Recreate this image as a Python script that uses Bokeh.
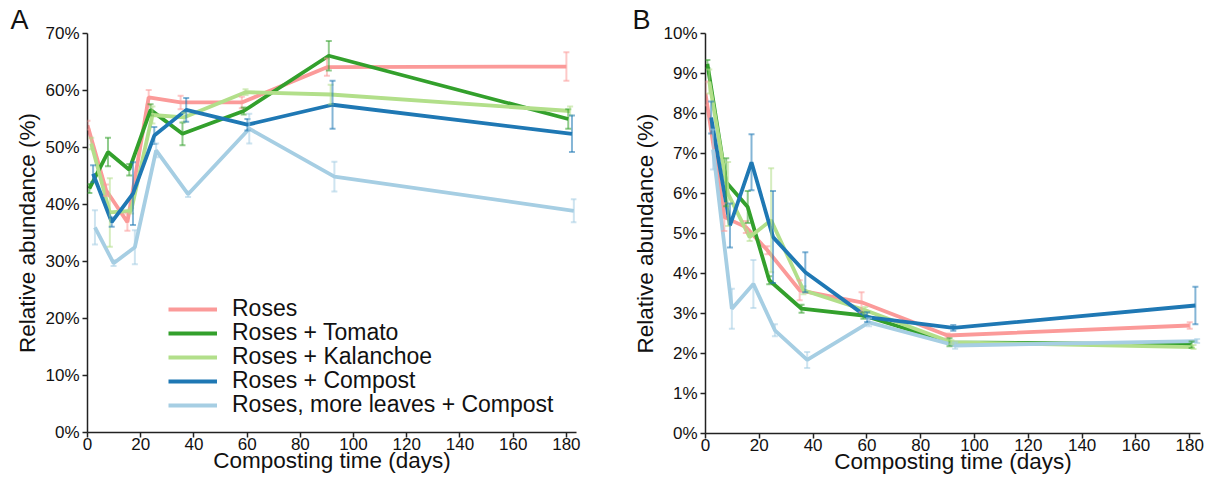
from bokeh.plotting import figure
from bokeh.layouts import row
from bokeh.models import (ColumnDataSource, Whisker, TeeHead, Range1d, Legend, LegendItem,
                          PrintfTickFormatter, FixedTicker, Title)
from bokeh.embed import file_html
from bokeh.resources import INLINE

days = [0, 7, 15, 23, 35, 58, 90, 180]
series = ["Roses", "Roses + Tomato", "Roses + Kalanchoe", "Roses + Compost",
          "Roses, more leaves + Compost"]
colors = ["#FB9A99", "#33A02C", "#B2DF8A", "#1F78B4", "#A6CEE3"]

# Panel A values (%)
a_roses = [53.9, 42.5, 36.9, 58.8, 57.9, 57.9, 64.1, 64.2]
a_tomato = [42.8, 49.2, 46.1, 56.6, 52.4, 56.4, 66.1, 55.0]
a_kalanchoe = [50.7, 38.6, 38.9, 55.7, 55.3, 59.7, 59.3, 56.4]
a_compost = [45.4, 36.9, 41.9, 52.1, 56.6, 54.0, 57.5, 52.4]
a_leaves = [36.0, 29.7, 32.5, 49.5, 41.8, 53.3, 44.9, 38.9]
a_roses_err = [0.8, 1.0, 1.5, 1.3, 1.2, 1.0, 1.5, 2.5]
a_tomato_err = [0.8, 2.5, 1.0, 1.0, 2.0, 0.6, 2.6, 1.7]
a_kalanchoe_err = [1.0, 6.0, 0.5, 1.5, 0.8, 0.5, 1.7, 0.8]
a_compost_err = [1.5, 0.8, 5.5, 1.5, 2.1, 1.0, 4.2, 3.2]
a_leaves_err = [3.0, 0.5, 3.0, 1.2, 0.5, 2.6, 2.6, 2.0]

# Panel B values (%)
b_roses = [8.5, 5.41, 5.16, 4.58, 3.58, 3.28, 2.45, 2.7]
b_tomato = [9.24, 6.28, 5.66, 3.83, 3.12, 2.95, 2.28, 2.22]
b_kalanchoe = [8.8, 5.99, 4.91, 5.33, 3.58, 3.08, 2.28, 2.16]
b_compost = [7.9, 5.2, 6.78, 4.91, 4.03, 2.91, 2.64, 3.2]
b_leaves = [7.1, 3.12, 3.74, 2.58, 1.84, 2.78, 2.2, 2.31]
b_roses_err = [0.3, 0.35, 0.15, 0.1, 0.25, 0.25, 0.05, 0.08]
b_tomato_err = [0.1, 0.6, 0.4, 0.1, 0.1, 0.08, 0.1, 0.08]
b_kalanchoe_err = [0.3, 0.8, 0.1, 1.3, 0.1, 0.08, 0.05, 0.05]
b_compost_err = [0.4, 0.55, 0.7, 1.15, 0.5, 0.12, 0.07, 0.47]
b_leaves_err = [0.5, 0.5, 0.6, 0.15, 0.2, 0.1, 0.08, 0.05]

a_vals = [a_roses, a_tomato, a_kalanchoe, a_compost, a_leaves]
a_errs = [a_roses_err, a_tomato_err, a_kalanchoe_err, a_compost_err, a_leaves_err]
b_vals = [b_roses, b_tomato, b_kalanchoe, b_compost, b_leaves]
b_errs = [b_roses_err, b_tomato_err, b_kalanchoe_err, b_compost_err, b_leaves_err]

FONT = "Liberation Sans"
AXC = "#222222"


def style(p, ymax, ystep):
    p.xgrid.visible = False
    p.ygrid.visible = False
    p.outline_line_color = None
    p.background_fill_color = "white"
    p.border_fill_color = "white"
    for ax in (p.xaxis[0], p.yaxis[0]):
        ax.axis_line_color = AXC
        ax.axis_line_width = 1.5
        ax.major_tick_line_color = AXC
        ax.major_tick_line_width = 1.5
        ax.major_tick_in = 0
        ax.major_tick_out = 5
        ax.minor_tick_line_color = None
        ax.major_label_text_font = FONT
        ax.major_label_text_font_size = "17px"
        ax.major_label_text_color = "#111111"
        ax.axis_label_text_font = FONT
        ax.axis_label_text_font_size = "22.5px"
        ax.axis_label_text_font_style = "normal"
        ax.axis_label_text_color = "#111111"
    p.yaxis[0].major_label_standoff = 3
    p.yaxis[0].axis_label_standoff = 2
    p.xaxis[0].major_label_standoff = 0
    p.xaxis[0].axis_label_standoff = -5
    p.xaxis[0].ticker = FixedTicker(ticks=list(range(0, 181, 20)))
    p.yaxis[0].ticker = FixedTicker(ticks=list(range(0, ymax + 1, ystep)))
    p.yaxis[0].formatter = PrintfTickFormatter(format="%d%%")
    p.xaxis[0].axis_label = "Composting time (days)"
    p.yaxis[0].axis_label = "Relative abundance (%)"


def draw(p, vals, errs):
    rends = []
    for i, (v, e) in enumerate(zip(vals, errs)):
        x = [d + i * 0.7 for d in days]
        src = ColumnDataSource(dict(x=x, y=v, up=[a + b for a, b in zip(v, e)],
                                    lo=[a - b for a, b in zip(v, e)]))
        r = p.line("x", "y", source=src, line_color=colors[i], line_width=3.8)
        rends.append(r)
        w = Whisker(base="x", upper="up", lower="lo", source=src,
                    line_color=colors[i], line_alpha=0.55, line_width=2,
                    upper_head=TeeHead(size=6, line_color=colors[i], line_alpha=0.55, line_width=2),
                    lower_head=TeeHead(size=6, line_color=colors[i], line_alpha=0.55, line_width=2),
                    level="annotation")
        p.add_layout(w)
    return rends


def panel_title(p, letter, off):
    t = Title(text=letter, align="left", offset=off, standoff=-3, text_font=FONT,
              text_font_size="27px", text_font_style="normal", text_color="#111111")
    p.add_layout(t, "above")


pA = figure(frame_width=489, frame_height=399, output_backend="svg", toolbar_location=None,
            x_range=Range1d(0, 183.8), y_range=Range1d(0, 70),
            min_border_left=87, min_border_top=33, min_border_right=32, min_border_bottom=0)
style(pA, 70, 10)
rA = draw(pA, a_vals, a_errs)
n = len(series)
for k, (s, r) in enumerate(zip(series, rA)):
    lg = Legend(items=[LegendItem(label=s, renderers=[r])],
                location=(81, 14 + 24 * (n - 1 - k)), padding=0, margin=0,
                border_line_color=None, background_fill_alpha=0,
                label_text_font=FONT, label_text_font_size="23px",
                label_text_color="#111111", glyph_width=49, glyph_height=20,
                label_height=20, spacing=0, label_standoff=15)
    pA.add_layout(lg, "center")
panel_title(pA, "A", -77)

pB = figure(frame_width=495, frame_height=400, output_backend="svg", toolbar_location=None,
            x_range=Range1d(0, 184), y_range=Range1d(0, 10),
            min_border_left=97, min_border_top=33, min_border_right=5, min_border_bottom=0)
style(pB, 10, 1)
draw(pB, b_vals, b_errs)
panel_title(pB, "B", -73)

layout = row(pA, pB, spacing=0)
open("out.html", "w").write(file_html(layout, INLINE))
